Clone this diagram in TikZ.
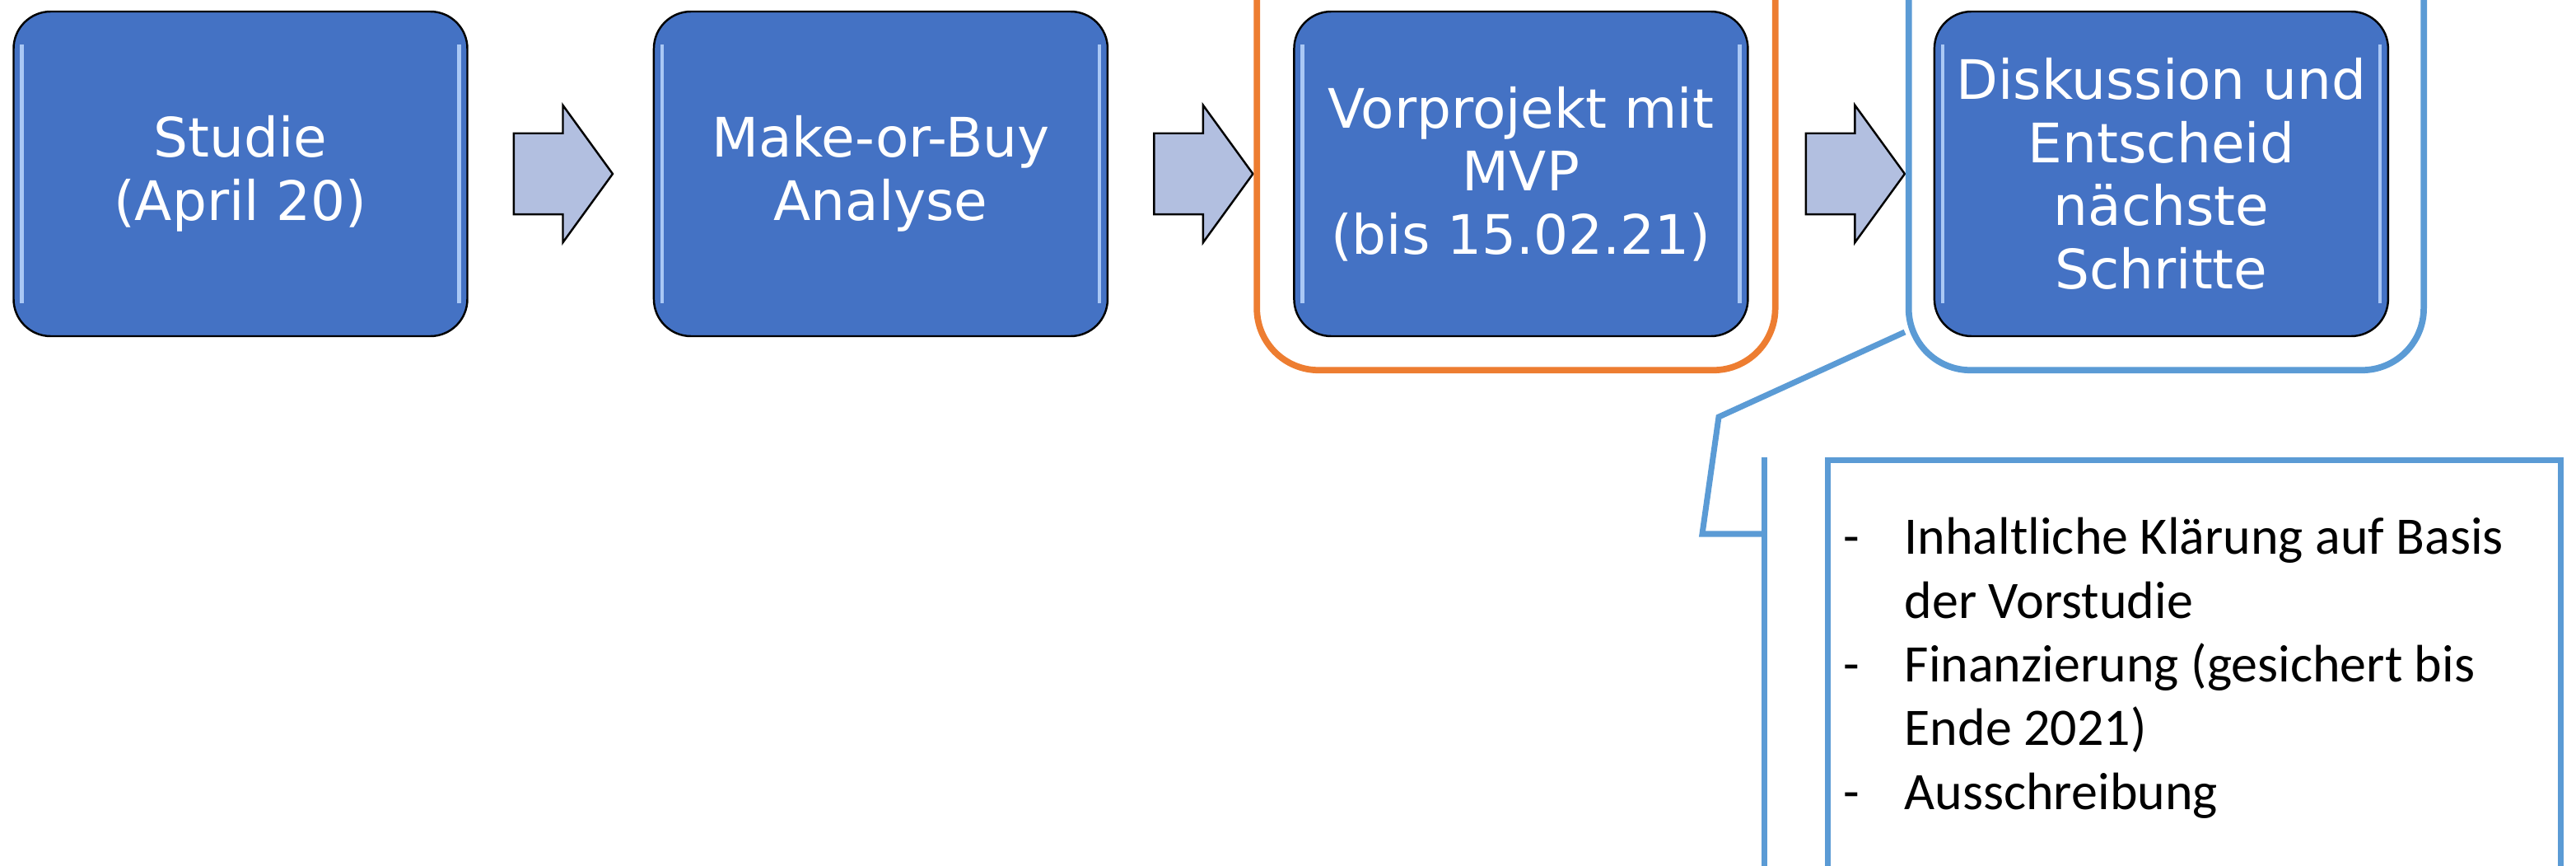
\documentclass[tikz,border=0pt]{standalone}
\usepackage{fontspec}
\setmainfont{Carlito}
\newfontfamily\kastenfont{DejaVu Sans}
\usetikzlibrary{positioning,shapes.arrows}
\definecolor{kastenblau}{HTML}{4472C4}
\definecolor{kastenlicht}{RGB}{170,200,245}
\definecolor{pfeilblau}{RGB}{178,191,224}
\definecolor{rahmenorange}{HTML}{ED7D31}
\definecolor{rahmenblau}{HTML}{5B9BD5}

\begin{document}
\begin{tikzpicture}[
    kasten/.style={draw=black, line width=0.7pt, fill=kastenblau, rounded corners=0.45cm,
      minimum width=5.51cm, minimum height=3.94cm, text=white, align=center,
      font=\kastenfont\fontsize{18.8}{21.8}\selectfont,
      path picture={
        \draw[kastenlicht, line width=1.2pt] ([xshift=0.1cm,yshift=-0.4cm]path picture bounding box.north west)
          -- ([xshift=0.1cm,yshift=0.4cm]path picture bounding box.south west);
        \draw[kastenlicht, line width=1.2pt] ([xshift=-0.1cm,yshift=-0.4cm]path picture bounding box.north east)
          -- ([xshift=-0.1cm,yshift=0.4cm]path picture bounding box.south east);
      }},
    pfeil/.style={single arrow, draw=black, line width=0.7pt, fill=pfeilblau, inner xsep=0pt,
      inner ysep=0.48cm, minimum height=1.2cm, single arrow head extend=0.34cm,
      single arrow tip angle=108, anchor=west},
    rahmen/.style={line width=2.2pt, rounded corners=0.75cm},
    hinweis/.style={draw=rahmenblau, line width=2pt}
  ]
  \useasboundingbox (0,0) rectangle (31.28,-10.51);
  \clip (0,0) rectangle (31.28,-10.51);
  \node[kasten] (studie) at (2.92,-2.11) {Studie\\(April 20)};
  \node[kasten, right=2.24cm of studie] (makebuy) {Make-or-Buy\\Analyse};
  \node[kasten, right=2.24cm of makebuy] (vorprojekt) {Vorprojekt mit\\MVP\\(bis 15.02.21)};
  \node[kasten, right=2.24cm of vorprojekt] (entscheid) {Diskussion und\\Entscheid\\nächste\\Schritte};
  \node[pfeil, right=0.54cm of studie] (pfeil1) {};
  \node[pfeil, right=0.54cm of makebuy] (pfeil2) {};
  \node[pfeil, right=0.68cm of vorprojekt] (pfeil3) {};
  \draw[rahmen, draw=rahmenorange] ([xshift=-0.44cm,yshift=-0.40cm]vorprojekt.south west)
    rectangle ([xshift=0.32cm,yshift=1cm]vorprojekt.north east);
  \draw[rahmen, draw=rahmenblau] ([xshift=-0.30cm,yshift=-0.40cm]entscheid.south west)
    rectangle ([xshift=0.42cm,yshift=1cm]entscheid.north east);
  \coordinate (zeiger) at (23.13,-4.03);
  \coordinate (knick) at (20.87,-5.06);
  \coordinate (ecke) at (20.67,-6.48);
  \coordinate (balken) at (21.42,-6.48);
  \coordinate (balkenoben) at (21.42,-5.55);
  \draw[hinweis] (zeiger) -- (knick) -- (ecke) -- (balken);
  \draw[hinweis] (balkenoben) -- ++(0,-5.5);
  \node[hinweis, anchor=north west, minimum width=8.90cm, minimum height=6cm] (notiz) at (22.16,-5.55) {};
  \node[anchor=north west, inner sep=0pt, font=\fontsize{18.2}{22}\selectfont] (liste) at (22.38,-6.18)
    {\begin{tabular}{@{}p{0.74cm}@{}l@{}}
      - & Inhaltliche Klärung auf Basis\\
        & der Vorstudie\\
      - & Finanzierung (gesichert bis\\
        & Ende 2021)\\
      - & Ausschreibung
    \end{tabular}};
\end{tikzpicture}
\end{document}
